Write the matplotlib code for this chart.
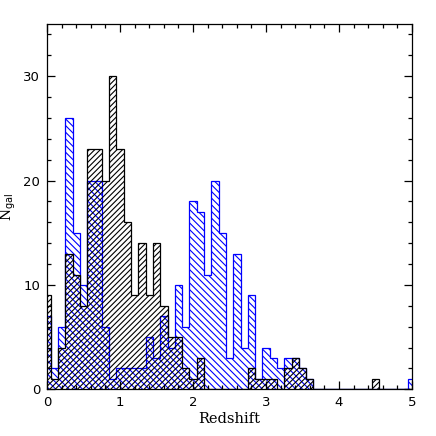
import numpy as np
import matplotlib
matplotlib.use("Agg")
import matplotlib.pyplot as plt
from matplotlib.ticker import MultipleLocator

# bin layout: bins of 0.1 centred on 0.0, 0.1, ... 5.0
bin_edges = np.round(np.arange(-0.05, 5.06, 0.1), 2)

# counts per bin
black_counts = [9, 1, 4, 13, 11, 8, 23, 23, 20, 30,
                23, 16, 9, 14, 9, 14, 8, 5, 5, 2,
                1, 3, 0, 0, 0, 0, 0, 0, 2, 1,
                1, 1, 0, 2, 3, 2, 1, 0, 0, 0,
                0, 0, 0, 0, 0, 1, 0, 0, 0, 0,
                0]
blue_counts = [7, 2, 6, 26, 15, 10, 20, 20, 6, 1,
               2, 2, 2, 2, 5, 3, 7, 4, 10, 6,
               18, 17, 11, 20, 15, 3, 13, 4, 9, 1,
               4, 3, 2, 3, 3, 2, 1, 0, 0, 0,
               0, 0, 0, 0, 0, 0, 0, 0, 0, 0,
               1]

x_ticks = [0, 1, 2, 3, 4, 5]
y_ticks = [0, 10, 20, 30]

plt.rcParams['hatch.linewidth'] = 0.8

fig = plt.figure(figsize=(4.36, 4.36), dpi=100)
ax = fig.add_axes([0.108, 0.107, 0.837, 0.838])

ax.stairs(blue_counts, bin_edges, fill=True, facecolor='none',
          edgecolor='blue', hatch='\\' * 5, linewidth=0.9)
ax.stairs(black_counts, bin_edges, fill=True, facecolor='none',
          edgecolor='black', hatch='/' * 6, linewidth=0.9)

ax.set_xlim(0, 5)
ax.set_ylim(0, 35)
ax.set_xticks(x_ticks)
ax.set_yticks(y_ticks)
ax.xaxis.set_minor_locator(MultipleLocator(0.2))
ax.yaxis.set_minor_locator(MultipleLocator(2))
ax.tick_params(which='both', direction='in', top=True, right=True)
ax.tick_params(which='major', length=6, width=0.9, labelsize=9.5, pad=5)
ax.tick_params(which='minor', length=3, width=0.9)
for s in ax.spines.values():
    s.set_linewidth(0.9)

ax.set_xlabel('Redshift', family='DejaVu Serif', fontsize=10.5, labelpad=2)
ax.set_ylabel(r'N$_{\rm gal}$', family='DejaVu Serif', fontsize=10)
ax.yaxis.set_label_coords(-0.08, 0.5)

fig.savefig('out.png', dpi=100)
